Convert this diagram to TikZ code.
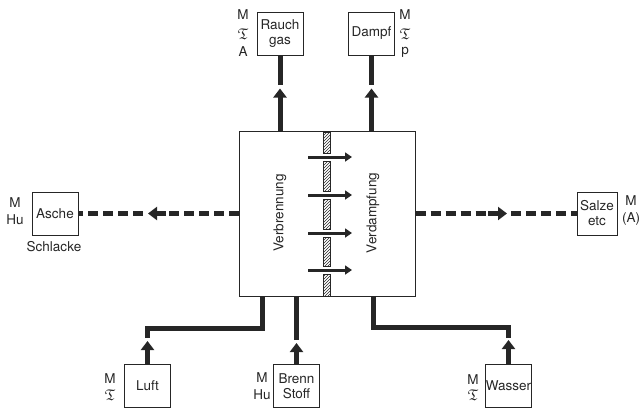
\documentclass[tikz,border=0pt]{standalone}
\usepackage{amssymb}
\usepackage{fontspec}
\setmainfont{TeX Gyre Heros}
\usetikzlibrary{arrows.meta,patterns,calc}
\newcommand{\frT}{\scalebox{1.15}{$\mathfrak{T}$}}
\begin{document}
\begin{tikzpicture}[x=1pt,y=-1pt,
  every node/.style={font=\fontsize{13.5}{15}\selectfont, text=black!85},
  box/.style={draw=black!85, line width=1pt, minimum width=46pt, minimum height=43pt, inner sep=0pt, align=center},
  lbl/.style={inner sep=0pt},
  flow/.style={line width=5pt, draw=black!85},
  tip/.style={flow, -{Triangle[width=13pt,length=9pt]}},
  dflow/.style={flow, dash pattern=on 10pt off 5pt},
  heat/.style={line width=3pt, draw=black!85, -{Triangle[width=9pt,length=7pt]}},
  wall/.style={draw=black!85, line width=0.8pt, pattern=north east lines, pattern color=black!85},
]
\useasboundingbox (0,0) rectangle (643,408);

% central box
\node[draw=black!85, line width=1pt, minimum width=176pt, minimum height=165pt, inner sep=0pt] (core) at (327,213.5) {};
\node[rotate=90] (verb) at (280,213) {Verbrennung};
\node[rotate=90] (verd) at (373,213) {Verdampfung};

% hatched wall
\foreach \a/\b in {132/153,161/191,199/229,237/266,274/296}{
  \draw[wall] (323,\a) rectangle (330,\b);
}
\foreach \y in {157,195,233,270}{
  \coordinate (hs\y) at (308,\y);
  \coordinate (he\y) at (352,\y);
  \draw[heat] (hs\y) -- (he\y);
}

% outer boxes
\node[box] (rauch) at (280,33.5) {Rauch\\gas};
\node[box] (dampf) at (371.5,33.5) {Dampf};
\node[box] (asche) at (55,213.5) {Asche};
\node[box, minimum width=40pt] (salze) at (597,213.5) {Salze\\etc};
\node[box] (luft) at (147.5,386) {Luft};
\node[box] (brenn) at (296.5,386) {Brenn\\Stoff};
\node[box] (wasser) at (508.5,386) {Wasser};

% labels
\node[lbl] at (243,15) {M};
\node[lbl] at (243,34) {\frT};
\node[lbl] at (243,52) {A};
\node[lbl] at (405,15) {M};
\node[lbl] at (405,34) {\frT};
\node[lbl] at (405,52) {p};
\node[lbl] at (15,203) {M};
\node[lbl] at (15,220) {Hu};
\node[lbl] (schl) at (54,247) {Schlacke};
\node[lbl] at (631,201) {M};
\node[lbl] at (631,219) {(A)};
\node[lbl] at (110,379) {M};
\node[lbl] at (110,395) {\frT};
\node[lbl] at (262,378) {M};
\node[lbl] at (262,395) {Hu};
\node[lbl] at (473,380) {M};
\node[lbl] at (473,395) {\frT};

% top flows
\draw[tip] (core.north -| rauch.south) -- ++(0,-42);
\draw[flow] ($(rauch.south)+(0,29)$) -- (rauch.south);
\draw[tip] (core.north -| dampf.south) -- ++(0,-42);
\draw[flow] ($(dampf.south)+(0,29)$) -- (dampf.south);

% left dashed flow
\coordinate (la) at (166,213.5);
\coordinate (lb) at (148,213.5);
\coordinate (lc) at (143,213.5);
\draw[dflow] (core.west) -- (la);
\draw[flow, -{Triangle[width=13pt,length=9pt]}] (la) -- (lb);
\draw[dflow] (lc) -- (asche.east);

% right dashed flow
\coordinate (ra) at (488,213.5);
\coordinate (rb) at (507,213.5);
\coordinate (rc) at (511,213.5);
\draw[dflow] (core.east) -- (ra);
\draw[flow, -{Triangle[width=13pt,length=9pt]}] (ra) -- (rb);
\draw[dflow] (rc) -- (salze.west);

% bottom flows
\draw[tip] (luft.north) -- ++(0,-23);
\draw[flow, line join=miter] ($(luft.north)+(0,-26)$) |- ($(core.south west)+(24,32)$) -- ($(core.south west)+(24,0)$);
\draw[tip] (brenn.north) -- ++(0,-21);
\draw[flow] ($(brenn.north)+(0,-24)$) -- (brenn.north |- core.south);
\draw[tip] (wasser.north) -- ++(0,-24);
\draw[flow, line join=miter] ($(wasser.north)+(0,-26)$) |- ($(core.south west)+(135,31)$) -- ($(core.south west)+(135,0)$);
\end{tikzpicture}
\end{document}
